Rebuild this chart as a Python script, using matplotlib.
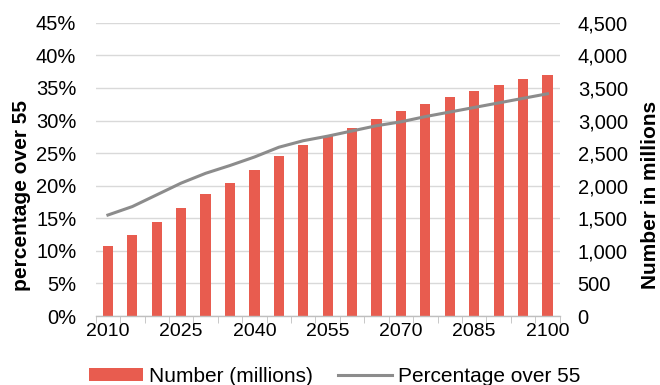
import numpy as np
import matplotlib.pyplot as plt
from matplotlib.ticker import FuncFormatter, FixedLocator

plt.rcParams['font.family'] = ['Liberation Sans', 'DejaVu Sans']

years = list(range(2010, 2101, 5))
number_millions = [1075, 1245, 1445, 1655, 1865, 2045, 2240, 2455, 2620, 2765,
                   2885, 3020, 3145, 3260, 3360, 3455, 3540, 3630, 3705]
pct_over_55 = [15.5, 16.8, 18.6, 20.4, 21.9, 23.1, 24.4, 25.9, 26.9, 27.6,
               28.4, 29.2, 29.8, 30.6, 31.3, 32.0, 32.7, 33.4, 34.1]

bar_color = '#E85C4F'
line_color = '#8C8C8C'
grid_color = '#D9D9D9'

fig = plt.figure(figsize=(6.6, 3.85), dpi=100)
ax = fig.add_axes([0.145, 0.179, 0.703, 0.762])
ax2 = ax.twinx()

x = np.arange(len(years))

# bars on the right-hand axis, line on the left one drawn on top
ax2.bar(x, number_millions, width=0.42, color=bar_color, zorder=2,
        label='Number (millions)')
ax2.set_ylim(0, 4500)
ax2.set_yticks(range(0, 4501, 500))
ax2.yaxis.set_major_formatter(FuncFormatter(lambda v, p: f'{int(v):,}'))
ax2.yaxis.grid(True, color=grid_color, linewidth=1, zorder=0)
ax2.set_axisbelow(True)

ax.plot(x, pct_over_55, color=line_color, linewidth=2.2, zorder=3,
        label='Percentage over 55')
ax.set_ylim(0, 45)
ax.set_yticks(range(0, 46, 5))
ax.yaxis.set_major_formatter(FuncFormatter(lambda v, p: f'{int(v)}%'))
ax.set_zorder(ax2.get_zorder() + 1)
ax.patch.set_visible(False)

ax.set_xlim(-0.5, len(years) - 0.5)
ax.xaxis.set_major_locator(FixedLocator(x[::3]))
ax.set_xticklabels([str(y) for y in years[::3]])
ax.xaxis.set_minor_locator(FixedLocator(np.arange(-0.5, len(years), 1)))
ax.tick_params(axis='x', which='major', length=0, pad=5, labelsize=14)
ax.tick_params(axis='x', which='minor', length=5, color='#BFBFBF')
ax.tick_params(axis='y', length=0, labelsize=14.5, pad=14)
ax2.tick_params(axis='y', length=0, labelsize=14.5, pad=13)

for a in (ax, ax2):
    for s in a.spines.values():
        s.set_visible(False)
ax.spines['bottom'].set_visible(True)
ax.spines['bottom'].set_color('#BFBFBF')
ax.spines['bottom'].set_linewidth(1)

ax.set_ylabel('percentage over 55', fontsize=15, fontweight='bold')
ax2.set_ylabel('Number in millions', fontsize=15, fontweight='bold')
ax.yaxis.set_label_coords(-0.14, 0.412)
ax2.yaxis.set_label_coords(1.176, 0.412)

h2, l2 = ax2.get_legend_handles_labels()
h1, l1 = ax.get_legend_handles_labels()
fig.legend(h2 + h1, l2 + l1, loc='center', ncol=2, frameon=False,
           fontsize=15, bbox_to_anchor=(0.507, 0.023), handlelength=2.6,
           handleheight=0.55, columnspacing=1.2, handletextpad=0.3)

fig.savefig('out.png', dpi=100)
